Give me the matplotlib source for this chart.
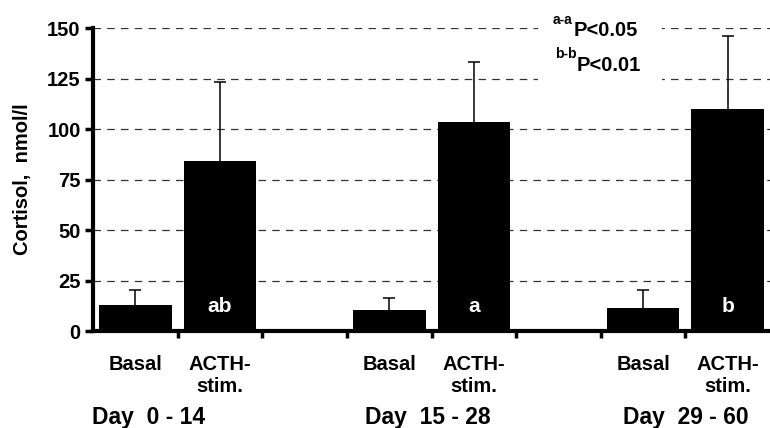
import numpy as np
import matplotlib
matplotlib.use("Agg")
import matplotlib.pyplot as plt
from matplotlib.patches import Rectangle

plt.rcParams['font.family'] = 'Liberation Sans'
plt.rcParams['font.weight'] = 'bold'

# data
groups = ['Day  0 - 14', 'Day  15 - 28', 'Day  29 - 60']
conditions = ['Basal', 'ACTH-\nstim.']
basal = [12.9, 10.4, 11.5]
basal_sd = [7.4, 6.1, 8.8]
acth = [84.4, 103.7, 110.2]
acth_sd = [38.8, 29.4, 36.1]
letters = ['ab', 'a', 'b']
yticks = [0, 25, 50, 75, 100, 125, 150]

fig = plt.figure(figsize=(7.7, 4.28), dpi=100)
ax = fig.add_axes([0.121, 0.2266, 0.879, 0.7074])

xb = np.arange(len(groups)) * 3
xa = xb + 1

ax.bar(xb, basal, width=0.86, color='black', zorder=2)
ax.bar(xa, acth, width=0.86, color='black', zorder=2)

# upper-only error bars with a cap at the top
for xs, ys, es in [(xb, basal, basal_sd), (xa, acth, acth_sd)]:
    tops = np.array(ys) + np.array(es)
    ax.vlines(xs, ys, tops, color='black', linewidth=1.1, zorder=1.5)
    ax.plot(xs, tops, linestyle='none', marker='_', markersize=9,
            markeredgewidth=1.1, color='black', zorder=1.5)

for x, t in zip(xa, letters):
    ax.text(x, 12, t, color='white', fontsize=15, fontweight='bold',
            ha='center', va='center', zorder=3)

ax.set_xlim(-0.5, 7.5)
ax.set_ylim(0, 150)
ax.set_yticks(yticks)
ax.tick_params(axis='y', labelsize=14.5, width=2.5, length=6, pad=3)

ticks = list(xb) + list(xa)
labels = [conditions[0]] * 3 + [conditions[1]] * 3
ax.set_xticks(ticks)
ax.set_xticklabels(labels, fontsize=14.5, fontweight='bold', linespacing=1.25)
ax.tick_params(axis='x', length=0, pad=17)
ax.set_xticks(np.arange(0.5, 7.5, 1), minor=True)
ax.tick_params(axis='x', which='minor', length=5, width=2.5, direction='out')

for s in ['top', 'right']:
    ax.spines[s].set_visible(False)
ax.spines['left'].set_linewidth(3)
ax.spines['bottom'].set_linewidth(3)

ax.set_axisbelow(True)
ax.yaxis.grid(True, color='#333333', linestyle=(0, (6, 5)), linewidth=0.9)

ax.set_ylabel('Cortisol,  nmol/l', fontsize=14.5, fontweight='bold', labelpad=11)

for x, g in zip([0.16, 3.45, 6.5], groups):
    ax.text(x, -0.308, g, transform=ax.get_xaxis_transform(), fontsize=16.5,
            fontweight='bold', ha='center', va='baseline')

# significance note with white backing over the grid
ax.add_patch(Rectangle((4.76, 115), 1.46, 40, facecolor='white', edgecolor='none',
                       zorder=1, clip_on=False))
ax.text(5.18, 146.2, 'P<0.05', fontsize=14.5, fontweight='bold', ha='left', va='baseline', zorder=3)
ax.text(5.17, 152, 'a-a', fontsize=10, fontweight='bold', ha='right', va='baseline', zorder=3)
ax.text(5.22, 129, 'P<0.01', fontsize=14.5, fontweight='bold', ha='left', va='baseline', zorder=3)
ax.text(5.21, 135.3, 'b-b', fontsize=10, fontweight='bold', ha='right', va='baseline', zorder=3)

fig.savefig('out.png', dpi=100)
